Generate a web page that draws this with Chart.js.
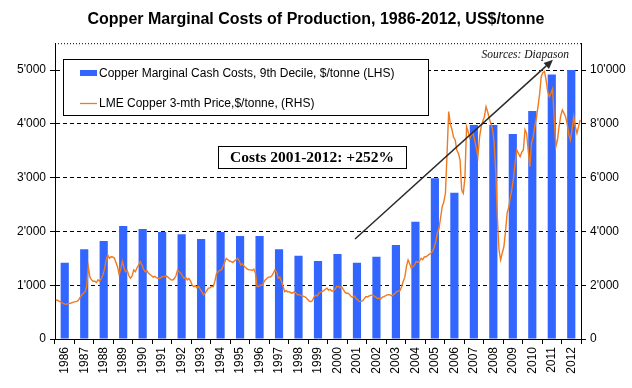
<!DOCTYPE html>
<html>
<head>
<meta charset="utf-8">
<script src="https://cdn.jsdelivr.net/npm/chart.js@4.4.0/dist/chart.umd.min.js"></script>
<style>
html,body{margin:0;padding:0;background:#fff;}
#wrap{width:632px;height:388px;position:relative;}
</style>
</head>
<body>
<div id="wrap"><canvas id="c" width="632" height="388"></canvas></div>
<script>
// ---------- DATA ----------
const years = ['1986','1987','1988','1989','1990','1991','1992','1993','1994','1995','1996','1997','1998','1999',
  '2000','2001','2002','2003','2004','2005','2006','2007','2008','2009','2010','2011','2012'];

// Copper marginal cash costs, 9th decile, $/tonne (LHS)
const marginalCosts = [1420,1670,1820,2100,2045,1990,1950,1860,1990,1915,1915,1670,1550,1450,
  1580,1420,1530,1750,2180,2990,2720,3980,3980,3810,4240,4920,5000];

// LME copper 3-mth price, $/tonne (RHS), monthly, Jan..Dec per row
const lmePriceMonthly = [
  1450,1440,1410,1380,1340,1310,1290,1300,1320,1330,1350,1370, // 1986
  1390,1400,1450,1550,1640,1700,1750,1950,2690,2300,2200,2150, // 1987
  2150,2100,2200,2150,2250,2380,2600,2950,3125,3000,3060,3050, // 1988
  3010,2850,2690,2400,2600,2880,2650,2500,2550,2350,2260,2350, // 1989
  2570,2500,2650,2750,2880,2750,2600,2500,2550,2450,2400,2350, // 1990
  2300,2330,2280,2260,2250,2300,2320,2330,2350,2300,2250,2200, // 1991
  2195,2250,2350,2570,2500,2450,2350,2260,2300,2200,2250,2150, // 1992
  2000,1950,1980,1900,1950,1850,1750,1640,1700,1800,1890,1900, // 1993
  1950,1950,2150,2440,2500,2550,2570,2700,2850,3000,2950,2900, // 1994
  2880,2850,2900,2950,3000,2900,2750,2800,2700,2650,2600,2570, // 1995
  2570,2550,2600,2450,1950,1950,2000,2000,2100,2200,2250,2300, // 1996
  2300,2350,2450,2570,2500,2260,2300,2150,1950,1760,1800,1750, // 1997
  1760,1700,1720,1760,1700,1640,1650,1620,1600,1575,1550,1480, // 1998
  1420,1390,1420,1550,1640,1600,1700,1740,1760,1800,1850,1890, // 1999
  1820,1850,1780,1800,1850,1950,1950,1900,1950,1850,1750,1700, // 2000
  1700,1650,1575,1550,1600,1500,1450,1390,1400,1420,1500,1575, // 2001
  1560,1600,1620,1640,1600,1560,1510,1520,1480,1550,1575,1600, // 2002
  1640,1650,1640,1600,1650,1700,1760,1780,1800,1950,2150,2300, // 2003
  2700,2940,2800,2630,2700,2750,2880,2850,2900,3000,2950,3050, // 2004
  3060,3100,3150,3190,3250,3400,3600,3930,4100,4500,4920,5100, // 2005
  5420,6910,8460,8000,7800,7500,7400,7030,6900,6660,5540,5420, // 2006
  6000,7900,7700,7470,7600,7650,7400,7100,6780,7500,7900,8100, // 2007
  8270,8640,8450,8200,8000,7800,7300,6200,4500,3310,2940,3200, // 2008
  3430,4000,4680,4900,5290,5600,6040,6600,7030,6900,6780,6950, // 2009
  7030,7780,7650,7000,6410,7280,7500,7900,8200,8640,9100,9760, // 2010
  9900,9950,9630,9200,9010,9140,9300,8200,7150,7400,7900,8300, // 2011
  8520,8400,8270,8000,7600,7400,7800,8270,7900,7650,7900,8150  // 2012
];

const leftTickValues  = [0,1000,2000,3000,4000,5000];
const rightTickValues = [0,2000,4000,6000,8000,10000];

const titleText   = 'Copper Marginal Costs of Production, 1986-2012, US$/tonne';
const legendLabels = ['Copper Marginal Cash Costs, 9th Decile, $/tonne (LHS)', 'LME Copper 3-mth Price,$/tonne, (RHS)'];
const annotationText = 'Costs 2001-2012: +252%';
const sourceText = 'Sources: Diapason';
// arrow anchors in data units: [year (time axis), LHS value]
const arrowFrom = [2001.4, 1860];
const arrowTo   = [2011.56, 5190];

// ---------- STYLE ----------
const BLUE = '#3366FF';
const ORANGE = '#F07A1E';
const SANS = '"Liberation Sans", Arial, sans-serif';
const SERIF = '"Liberation Serif", "Times New Roman", serif';

function fmt(v){ return String(v).replace(/\B(?=(\d{3})+(?!\d))/g, "'"); }

const linePoints = lmePriceMonthly.map((v,i) => ({x: 1986 + (i + 0.5)/12, y: v}));

const decorPlugin = {
  id: 'decor',
  afterDraw(chart){
    const ctx = chart.ctx;
    const a = chart.chartArea;
    ctx.save();
    // dotted top border of plot area
    ctx.strokeStyle = '#000';
    ctx.lineWidth = 1;
    ctx.setLineDash([1,2]);
    ctx.beginPath();
    ctx.moveTo(a.left, a.top + 0.5);
    ctx.lineTo(a.right, a.top + 0.5);
    ctx.stroke();
    ctx.setLineDash([]);

    // legend box
    ctx.fillStyle = '#fff';
    ctx.fillRect(63, 59, 365, 56);
    ctx.strokeStyle = '#000';
    ctx.strokeRect(63.5, 59.5, 365, 56);
    ctx.fillStyle = BLUE;
    ctx.fillRect(80, 70, 17, 6);
    ctx.strokeStyle = ORANGE;
    ctx.lineWidth = 1.3;
    ctx.beginPath(); ctx.moveTo(80, 103.5); ctx.lineTo(97, 103.5); ctx.stroke();
    ctx.fillStyle = '#000';
    ctx.font = '12px ' + SANS;
    ctx.textBaseline = 'middle';
    ctx.textAlign = 'left';
    ctx.fillText(legendLabels[0], 99, 73.5);
    ctx.fillText(legendLabels[1], 99, 103.5);

    // arrow
    const xs = chart.scales.x2, ys = chart.scales.y;
    const x1 = xs.getPixelForValue(arrowFrom[0]), y1 = ys.getPixelForValue(arrowFrom[1]);
    const x2 = xs.getPixelForValue(arrowTo[0]),   y2 = ys.getPixelForValue(arrowTo[1]);
    ctx.strokeStyle = '#2b2b2b';
    ctx.fillStyle = '#2b2b2b';
    ctx.lineWidth = 1.5;
    const ang = Math.atan2(y2 - y1, x2 - x1);
    const hl = 9, hw = 4;
    const bx = x2 - hl*Math.cos(ang), by = y2 - hl*Math.sin(ang);
    ctx.beginPath(); ctx.moveTo(x1, y1); ctx.lineTo(bx, by); ctx.stroke();
    ctx.beginPath();
    ctx.moveTo(x2, y2);
    ctx.lineTo(bx + hw*Math.sin(ang), by - hw*Math.cos(ang));
    ctx.lineTo(bx - hw*Math.sin(ang), by + hw*Math.cos(ang));
    ctx.closePath(); ctx.fill();

    // annotation box
    ctx.lineWidth = 1;
    ctx.fillStyle = '#fff';
    ctx.fillRect(218, 146, 188, 22);
    ctx.strokeStyle = '#000';
    ctx.strokeRect(218.5, 146.5, 188, 22);
    ctx.fillStyle = '#000';
    ctx.font = 'bold 15.5px ' + SERIF;
    ctx.textAlign = 'center';
    ctx.fillText(annotationText, 312, 158);

    // source
    ctx.font = 'italic 11.5px ' + SERIF;
    ctx.textAlign = 'right';
    ctx.fillStyle = '#111';
    ctx.fillText(sourceText, 569, 55);
    ctx.restore();
  }
};

new Chart(document.getElementById('c'), {
  type: 'bar',
  data: {
    labels: years,
    datasets: [
      {
        type: 'line',
        label: legendLabels[1],
        data: linePoints,
        xAxisID: 'x2',
        yAxisID: 'y1',
        borderColor: ORANGE,
        borderWidth: 1.4,
        pointRadius: 0,
        tension: 0,
        fill: false,
        order: 0
      },
      {
        type: 'bar',
        label: legendLabels[0],
        data: marginalCosts,
        xAxisID: 'x',
        yAxisID: 'y',
        backgroundColor: BLUE,
        borderWidth: 0,
        grouped: false,
        barPercentage: 0.42,
        categoryPercentage: 1,
        order: 1
      }
    ]
  },
  options: {
    responsive: false,
    animation: false,
    devicePixelRatio: 1,
    layout: { padding: 0 },
    plugins: {
      legend: { display: false },
      tooltip: { enabled: false },
      title: {
        display: true,
        text: titleText,
        color: '#000',
        font: { family: SANS, size: 16, weight: 'bold' },
        padding: { top: 10, bottom: 14 }
      }
    },
    scales: {
      x: {
        type: 'category',
        position: 'bottom',
        offset: true,
        afterFit(s){ s.height = 49; },
        grid: { offset: true, drawOnChartArea: false, drawTicks: true, tickLength: 5, color: '#000', tickColor: '#000' },
        border: { color: '#000', width: 1 },
        ticks: { minRotation: 90, maxRotation: 90, autoSkip: false, padding: 3, color: '#000',
                 font: { family: SANS, size: 12 } }
      },
      x2: {
        type: 'linear',
        display: false,
        offset: false,
        grid: { offset: false },
        bounds: 'ticks',
        min: 1986,
        max: 2013
      },
      y: {
        type: 'linear',
        position: 'left',
        min: 0,
        max: 5500,
        afterBuildTicks(s){ s.ticks = leftTickValues.map(v => ({value: v})); },
        afterFit(s){ s.width = 55; },
        grid: {
          color: c => (c.tick && (c.tick.value === 0)) ? 'rgba(0,0,0,0)' : '#000',
          tickColor: '#000',
          lineWidth: 1,
          tickLength: 5
        },
        border: { color: '#000', width: 1, dash: [4,3] },
        ticks: { padding: 4, color: '#000', font: { family: SANS, size: 12 }, callback: v => fmt(v) }
      },
      y1: {
        type: 'linear',
        position: 'right',
        min: 0,
        max: 11000,
        afterBuildTicks(s){ s.ticks = rightTickValues.map(v => ({value: v})); },
        afterFit(s){ s.width = 51; },
        grid: { drawOnChartArea: false, tickLength: 5, color: '#000', tickColor: '#000' },
        border: { color: '#000', width: 1 },
        ticks: { padding: 4, color: '#000', font: { family: SANS, size: 12 }, callback: v => fmt(v) }
      }
    }
  },
  plugins: [decorPlugin]
});
</script>
</body>
</html>
